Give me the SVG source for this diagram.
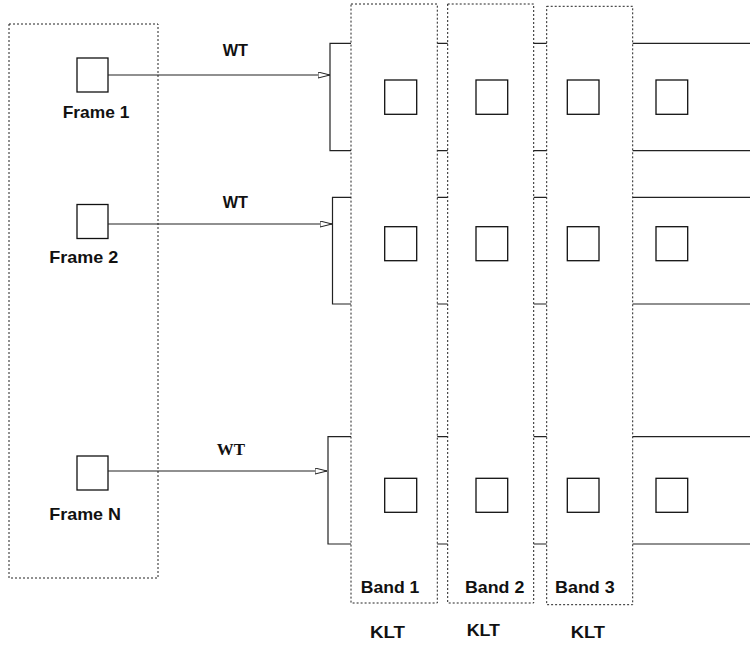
<svg xmlns="http://www.w3.org/2000/svg" width="750" height="646" viewBox="0 0 750 646">
<style>
.dash{fill:none;stroke:#222;stroke-width:1;stroke-dasharray:2,2}
.band{fill:#fff;stroke:#222;stroke-width:1;stroke-dasharray:2,2}
.sq{fill:#fff;stroke:#111;stroke-width:1.3}
.ln{fill:none;stroke:#222;stroke-width:1.2}
.t{font-family:"Liberation Sans",Arial,sans-serif;font-weight:bold;font-size:17px;fill:#111}
.ts{font-family:"Liberation Serif","Times New Roman",serif;font-weight:bold;font-size:17px;fill:#111}
</style>
<defs>
<marker id="ah" markerUnits="userSpaceOnUse" markerWidth="14" markerHeight="8" refX="12" refY="3" orient="auto">
<path d="M0,0 L12,3 L0,6 z" fill="#fff" stroke="#222" stroke-width="1"/>
</marker>
</defs>
<rect x="0" y="0" width="750" height="646" fill="#fff"/>

<g id="rows">
<path class="ln" d="M750,43.3 H330 V150.7 H750"/>
<path class="ln" d="M750,197.3 H332.5 V304 H750"/>
<path class="ln" d="M750,436.7 H328 V544 H750"/>
</g>

<g id="frames">
<rect class="dash" x="9" y="24" width="149" height="554"/>
<g id="frame1">
<rect class="sq" x="77" y="58" width="31" height="34"/>
<text class="t" x="62.7" y="118.3" textLength="66.6" lengthAdjust="spacingAndGlyphs">Frame 1</text>
</g>
<g id="frame2">
<rect class="sq" x="77" y="204.5" width="31" height="34"/>
<text class="t" x="49.3" y="263.3" textLength="69" lengthAdjust="spacingAndGlyphs">Frame 2</text>
</g>
<g id="frameN">
<rect class="sq" x="77" y="456" width="31" height="34"/>
<text class="t" x="49.3" y="520" textLength="71.7" lengthAdjust="spacingAndGlyphs">Frame N</text>
</g>
</g>

<g id="connectors">
<line class="ln" x1="108" y1="75" x2="330" y2="75" marker-end="url(#ah)"/>
<line class="ln" x1="108" y1="224" x2="332" y2="224" marker-end="url(#ah)"/>
<line class="ln" x1="108" y1="471" x2="327" y2="471" marker-end="url(#ah)"/>
<text class="t" x="222.7" y="56" font-size="14" textLength="25.3" lengthAdjust="spacingAndGlyphs">WT</text>
<text class="t" x="222.7" y="208" font-size="14" textLength="25.3" lengthAdjust="spacingAndGlyphs">WT</text>
<text class="ts" x="216.7" y="455" textLength="28.3" lengthAdjust="spacingAndGlyphs">WT</text>
</g>

<g id="band1">
<rect class="band" x="351" y="4" width="86.3" height="599"/>
<text class="t" x="360.7" y="592.7" textLength="58.6" lengthAdjust="spacingAndGlyphs">Band 1</text>
<text class="t" x="370" y="637.7" textLength="35" lengthAdjust="spacingAndGlyphs">KLT</text>
</g>
<g id="band2">
<rect class="band" x="447.7" y="4" width="86" height="599"/>
<text class="t" x="465" y="592.7" textLength="59.3" lengthAdjust="spacingAndGlyphs">Band 2</text>
<text class="t" x="466.7" y="636" textLength="33.3" lengthAdjust="spacingAndGlyphs">KLT</text>
</g>
<g id="band3">
<rect class="band" x="546.7" y="6.3" width="86" height="598.4"/>
<text class="t" x="555" y="592.7" textLength="59.7" lengthAdjust="spacingAndGlyphs">Band 3</text>
<text class="t" x="570.7" y="637.7" textLength="34.3" lengthAdjust="spacingAndGlyphs">KLT</text>
</g>

<g id="coefficients">
<rect class="sq" x="384.7" y="80" width="32" height="34.3"/>
<rect class="sq" x="476" y="80" width="31.7" height="34.3"/>
<rect class="sq" x="567.3" y="80" width="31.7" height="34.3"/>
<rect class="sq" x="656" y="80" width="31.7" height="34.3"/>
<rect class="sq" x="384.7" y="226.7" width="32" height="34"/>
<rect class="sq" x="476" y="226.7" width="31.7" height="34"/>
<rect class="sq" x="567.3" y="226.7" width="31.7" height="34"/>
<rect class="sq" x="656" y="226.7" width="31.7" height="34"/>
<rect class="sq" x="384.7" y="478.3" width="32" height="34"/>
<rect class="sq" x="476" y="478.3" width="31.7" height="34"/>
<rect class="sq" x="567.3" y="478.3" width="31.7" height="34"/>
<rect class="sq" x="656" y="478.3" width="31.7" height="34"/>
</g>
</svg>
